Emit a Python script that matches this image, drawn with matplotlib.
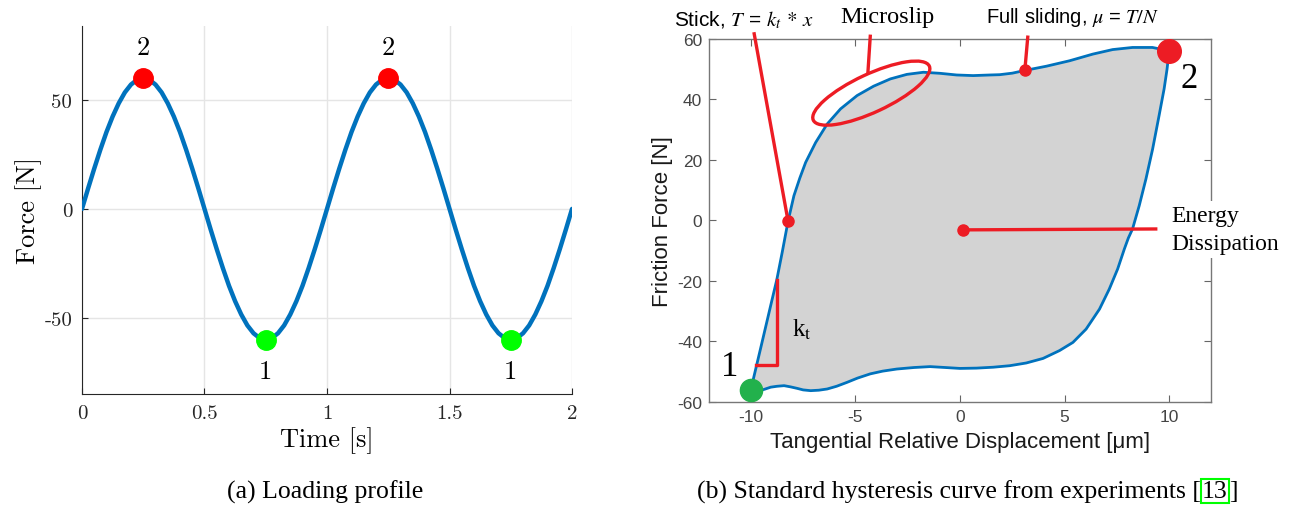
import matplotlib
matplotlib.use("Agg")
import matplotlib.pyplot as plt
import matplotlib.transforms as mtransforms
from matplotlib.patches import Ellipse

plt.rcParams["axes.unicode_minus"] = False
plt.rcParams["mathtext.fontset"] = "stix"

# ---- (a) loading profile: force every 0.025 s ----
time_s = [0.000, 0.025, 0.050, 0.075, 0.100, 0.125, 0.150, 0.175, 0.200, 0.225,
          0.250, 0.275, 0.300, 0.325, 0.350, 0.375, 0.400, 0.425, 0.450, 0.475,
          0.500, 0.525, 0.550, 0.575, 0.600, 0.625, 0.650, 0.675, 0.700, 0.725,
          0.750, 0.775, 0.800, 0.825, 0.850, 0.875, 0.900, 0.925, 0.950, 0.975,
          1.000, 1.025, 1.050, 1.075, 1.100, 1.125, 1.150, 1.175, 1.200, 1.225,
          1.250, 1.275, 1.300, 1.325, 1.350, 1.375, 1.400, 1.425, 1.450, 1.475,
          1.500, 1.525, 1.550, 1.575, 1.600, 1.625, 1.650, 1.675, 1.700, 1.725,
          1.750, 1.775, 1.800, 1.825, 1.850, 1.875, 1.900, 1.925, 1.950, 1.975, 2.000]
force_n = [0.0, 9.4, 18.5, 27.2, 35.3, 42.4, 48.5, 53.5, 57.1, 59.3,
           60.0, 59.3, 57.1, 53.5, 48.5, 42.4, 35.3, 27.2, 18.5, 9.4,
           0.0, -9.4, -18.5, -27.2, -35.3, -42.4, -48.5, -53.5, -57.1, -59.3,
           -60.0, -59.3, -57.1, -53.5, -48.5, -42.4, -35.3, -27.2, -18.5, -9.4,
           0.0, 9.4, 18.5, 27.2, 35.3, 42.4, 48.5, 53.5, 57.1, 59.3,
           60.0, 59.3, 57.1, 53.5, 48.5, 42.4, 35.3, 27.2, 18.5, 9.4,
           0.0, -9.4, -18.5, -27.2, -35.3, -42.4, -48.5, -53.5, -57.1, -59.3,
           -60.0, -59.3, -57.1, -53.5, -48.5, -42.4, -35.3, -27.2, -18.5, -9.4, 0.0]
peak_t = [0.25, 1.25]
peak_f = [60.0, 60.0]
valley_t = [0.75, 1.75]
valley_f = [-60.0, -60.0]

# ---- (b) hysteresis loop ----
# loading branch, point 1 -> point 2
up_x = [-10.0, -9.5, -9.0, -8.76, -8.5, -8.22, -7.94, -7.66, -7.38, -6.9,
        -6.35, -5.71, -4.92, -4.13, -3.33, -2.54, -1.75, -0.95, -0.16, 0.63,
        1.43, 1.9, 2.5, 3.1, 4.13, 5.24, 6.35, 7.3, 8.25, 9.2, 10.0]
up_y = [-55.9, -41.3, -26.6, -19.6, -10.5, -0.2, 8.2, 14.0, 19.2, 25.8,
        31.9, 36.9, 41.3, 44.4, 46.8, 48.3, 49.0, 48.65, 48.1, 47.9,
        48.1, 48.2, 48.7, 49.6, 51.0, 52.8, 55.0, 56.5, 57.2, 57.2, 56.1]
# unloading branch, point 2 -> point 1
down_x = [10.0, 9.9, 9.76, 9.52, 9.21, 8.89, 8.57, 8.25, 8.05, 7.86,
          7.54, 7.14, 6.67, 6.03, 5.4, 4.76, 3.97, 3.17, 2.38, 1.59,
          0.79, 0.0, -0.7, -1.43, -2.2, -3.02, -3.7, -4.29, -4.9, -5.4,
          -5.9, -6.35, -6.75, -7.14, -7.5, -7.78, -8.1, -8.41, -8.75, -9.05,
          -9.35, -9.6, -10.0]
down_y = [56.1, 50.0, 43.5, 34.7, 23.6, 13.7, 4.9, -2.8, -5.8, -9.4,
          -16.0, -22.65, -29.3, -35.9, -40.3, -43.0, -45.6, -47.1, -48.0, -48.5,
          -48.8, -48.9, -48.6, -48.3, -48.6, -49.1, -49.8, -50.7, -52.1, -53.5,
          -54.8, -55.7, -56.1, -56.25, -56.0, -55.5, -55.0, -54.6, -54.8, -55.1,
          -55.8, -56.25, -56.1]

BLUE = "#0072BD"
RED = "#ed1c24"
CM = "cmr10"
SERIF = "Liberation Serif"
SANS = "Liberation Sans"

fig = plt.figure(figsize=(12.91, 5.10), dpi=100)

# ================= (a) =================
ax1 = fig.add_axes([0.0635, 0.2255, 0.3796, 0.7216])
ax1.plot(time_s, force_n, color=BLUE, lw=3.2, solid_capstyle="round", zorder=3)
ax1.plot(peak_t, peak_f, "o", color="#ff0000", ms=14, zorder=4)
ax1.plot(valley_t, valley_f, "o", color="#00ff00", ms=14, zorder=4)
for t, f in zip(peak_t, peak_f):
    ax1.text(t, f + 14.5, "2", ha="center", va="center", fontsize=19, family=CM)
for t, f in zip(valley_t, valley_f):
    ax1.text(t, f - 14.7, "1", ha="center", va="center", fontsize=19, family=CM)

ax1.set_xlim(0, 2)
ax1.set_ylim(-85, 84)
ax1.set_xticks([0, 0.5, 1, 1.5, 2])
ax1.set_xticklabels(["0", "0.5", "1", "1.5", "2"], family=CM, fontsize=15)
ax1.set_yticks([-50, 0, 50])
ax1.set_yticklabels(["-50", "0", "50"], family=CM, fontsize=15)
ax1.grid(True, color="#e5e5e5", lw=1)
ax1.set_axisbelow(True)
for s in ["top", "right"]:
    ax1.spines[s].set_visible(False)
for s in ["left", "bottom"]:
    ax1.spines[s].set_color("#262626")
    ax1.spines[s].set_linewidth(0.8)
ax1.tick_params(direction="in", length=4, width=0.8, colors="#262626", pad=7)
ax1.set_xlabel("Time [s]", family=CM, fontsize=19, labelpad=3)
ax1.set_ylabel("Force [N]", family=CM, fontsize=19, labelpad=2)

fig.text(325 / 1291, 1 - 492 / 510, "(a) Loading profile", ha="center", va="center",
         family=SERIF, fontsize=18.5)

# ================= (b) =================
ax2 = fig.add_axes([0.5492, 0.2098, 0.3888, 0.7118])
loop_x = up_x + down_x[1:]
loop_y = up_y + down_y[1:]
ax2.fill(loop_x, loop_y, color="#d3d3d3", lw=0, zorder=1)
ax2.plot(loop_x, loop_y, color=BLUE, lw=2.0, zorder=2, solid_joinstyle="round")

ax2.set_xlim(-12, 12)
ax2.set_ylim(-60, 60)
ax2.set_xticks([-10, -5, 0, 5, 10])
ax2.set_xticklabels(["-10", "-5", "0", "5", "10"])
ax2.set_yticks([-60, -40, -20, 0, 20, 40, 60])
ax2.set_yticklabels(["-60", "-40", "-20", "0", "20", "40", "60"])
for lab in ax2.get_xticklabels() + ax2.get_yticklabels():
    lab.set_family(SANS)
    lab.set_fontsize(12.5)
    lab.set_color("#444444")
ax2.tick_params(direction="in", length=5, width=0.8, color="#666666",
                top=True, right=True, pad=5)
for s in ax2.spines.values():
    s.set_color("#777777")
    s.set_linewidth(1.0)
ax2.set_xlabel("Tangential Relative Displacement [\u03bcm]", family=SANS, fontsize=16,
               color="#1a1a1a", labelpad=5)
ax2.set_ylabel("Friction Force [N]", family=SANS, fontsize=16, color="#1a1a1a", labelpad=3)

# end points
ax2.plot([10.0], [56.1], "o", color=RED, ms=17, zorder=5, clip_on=False)
ax2.plot([-10.0], [-56.0], "o", color="#22b14c", ms=16, zorder=5, clip_on=False)
ax2.text(10.94, 46.8, "2", ha="center", va="center", family=SERIF, fontsize=25)
ax2.text(-11.0, -48.4, "1", ha="center", va="center", family=SERIF, fontsize=25)

# stick annotation
ax2.plot([-9.84, -8.22], [61.7, -0.2], color=RED, lw=2.4, clip_on=False, zorder=4)
ax2.plot([-8.22], [-0.2], "o", color=RED, ms=8, zorder=5)
ax2.text(-10.33, 66.4, r"Stick, $T$ = $k_t$ $*$ $x$", ha="center", va="center",
         family=SANS, fontsize=15, clip_on=False)

# microslip annotation
ell = Ellipse((0, 0), width=1.28, height=0.38, angle=25, fill=False, edgecolor=RED, lw=2.4,
              transform=fig.dpi_scale_trans + mtransforms.ScaledTranslation(-4.24, 42.1, ax2.transData),
              zorder=4)
ax2.add_patch(ell)
ax2.plot([-4.29, -4.4], [60.9, 49.2], color=RED, lw=2.4, clip_on=False, zorder=4)
ax2.text(-3.48, 67.4, "Microslip", ha="center", va="center", family=SERIF, fontsize=17.5,
         clip_on=False)

# full sliding annotation
ax2.plot([3.24, 3.1], [60.6, 49.6], color=RED, lw=2.4, clip_on=False, zorder=4)
ax2.plot([3.1], [49.6], "o", color=RED, ms=8, zorder=5)
ax2.text(5.4, 67.3, r"Full sliding, $\mu$ = $T/N$", ha="center", va="center",
         family=SANS, fontsize=14.5, clip_on=False)

# energy dissipation annotation
ax2.plot([0.13, 9.36], [-3.1, -2.8], color=RED, lw=2.4, zorder=4)
ax2.plot([0.13], [-3.1], "o", color=RED, ms=8, zorder=5)
ax2.text(10.1, -3.0, "Energy\nDissipation", ha="left", va="center", family=SERIF,
         fontsize=17, linespacing=1.4, clip_on=False, zorder=6,
         bbox=dict(facecolor="white", edgecolor="none", pad=3))

# stiffness triangle
ax2.plot([-9.76, -8.76, -8.76], [-47.7, -47.7, -19.6], color=RED, lw=2.4, zorder=4)
ax2.text(-7.54, -35.9, r"k$_\mathrm{t}$", ha="center", va="center", family=SERIF, fontsize=18)

# caption with boxed reference number
cap = fig.text(697 / 1291, 1 - 492 / 510, "(b) Standard hysteresis curve from experiments [",
               ha="left", va="center", family=SERIF, fontsize=18.5)
ref = fig.text(0, 0, "13", ha="left", va="center", family=SERIF, fontsize=18.5,
               bbox=dict(facecolor="none", edgecolor="#00ff00", lw=1.5, pad=1.0))
fig.canvas.draw()
bb = cap.get_window_extent()
ref.set_position((bb.x1 / fig.bbox.width + 0.001, cap.get_position()[1]))
fig.canvas.draw()
bb2 = ref.get_window_extent()
fig.text(bb2.x1 / fig.bbox.width + 0.001, cap.get_position()[1], "]", ha="left", va="center",
         family=SERIF, fontsize=18.5)

fig.savefig("out.png", dpi=100)
